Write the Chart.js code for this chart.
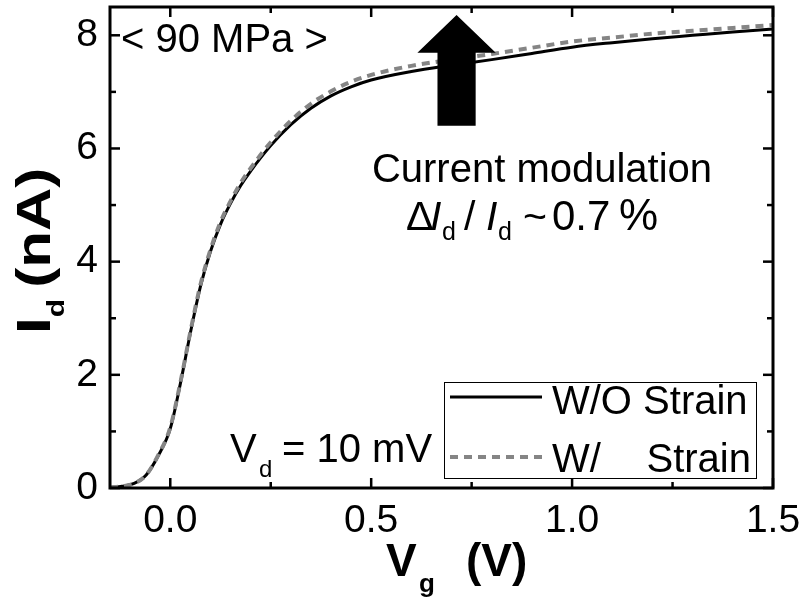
<!DOCTYPE html>
<html><head><meta charset="utf-8">
<script src="https://cdn.jsdelivr.net/npm/chart.js@4.4.1/dist/chart.umd.min.js"></script>
<style>html,body{margin:0;padding:0;background:#fff;}canvas{display:block;}</style>
</head><body>
<canvas id="c" width="804" height="600"></canvas>
<script>
// ---- data ----
const vg = [-0.15,-0.12,-0.09,-0.06,-0.03,0.00,0.025,0.05,0.075,0.10,0.125,0.15,0.175,0.20,0.25,0.30,0.35,0.40,0.45,0.50,0.60,0.70,0.80,0.90,1.00,1.10,1.20,1.30,1.40,1.50];
const idWithoutStrain = [0.01,0.03,0.08,0.23,0.57,1.05,1.84,2.74,3.56,4.18,4.66,5.03,5.34,5.60,6.05,6.42,6.71,6.93,7.09,7.21,7.36,7.47,7.57,7.68,7.79,7.87,7.94,8.00,8.06,8.11];
const idWithStrain    = [0.01,0.03,0.08,0.23,0.58,1.07,1.86,2.76,3.59,4.21,4.70,5.07,5.39,5.65,6.11,6.49,6.79,7.01,7.18,7.30,7.46,7.57,7.67,7.78,7.89,7.96,8.03,8.08,8.13,8.18];
const seriesLabels = ['W/O Strain', 'W/   Strain'];
const xTicks = [0.0, 0.5, 1.0, 1.5];
const xMinorTicks = [0.25, 0.75, 1.25];
const yTicks = [0, 2, 4, 6, 8];
const yMinorTicks = [1, 3, 5, 7];
const xRange = [-0.15, 1.5];
const yRange = [0, 8.5];
// annotation arrow (data units)
const arrowX = 0.7125, arrowTip = 8.36, arrowBase = 7.69, arrowTail = 6.40, arrowHeadHalf = 0.0975, arrowShaftHalf = 0.0475;

const FF = '"Liberation Sans", Arial, Helvetica, sans-serif';
const f = (size, style) => (style ? style + ' ' : '') + size + 'px ' + FF;

const deco = {
  id: 'deco',
  afterDatasetsDraw(chart) {
    const {ctx, chartArea: a, scales: {x, y}} = chart;
    const px = v => x.getPixelForValue(v), py = v => y.getPixelForValue(v);
    ctx.save();
    // arrow
    ctx.fillStyle = '#000';
    ctx.beginPath();
    ctx.moveTo(px(arrowX), py(arrowTip));
    ctx.lineTo(px(arrowX + arrowHeadHalf), py(arrowBase));
    ctx.lineTo(px(arrowX + arrowShaftHalf), py(arrowBase));
    ctx.lineTo(px(arrowX + arrowShaftHalf), py(arrowTail));
    ctx.lineTo(px(arrowX - arrowShaftHalf), py(arrowTail));
    ctx.lineTo(px(arrowX - arrowShaftHalf), py(arrowBase));
    ctx.lineTo(px(arrowX - arrowHeadHalf), py(arrowBase));
    ctx.closePath();
    ctx.fill();

    // frame
    ctx.strokeStyle = '#000';
    ctx.lineWidth = 3;
    ctx.strokeRect(a.left, a.top, a.right - a.left, a.bottom - a.top);
    // ticks (inside, mirrored)
    ctx.lineWidth = 2.5;
    const tick = (x1, y1, x2, y2) => { ctx.beginPath(); ctx.moveTo(x1, y1); ctx.lineTo(x2, y2); ctx.stroke(); };
    xTicks.forEach(v => { const p = px(v); tick(p, a.bottom, p, a.bottom - 10); tick(p, a.top, p, a.top + 10); });
    xMinorTicks.forEach(v => { const p = px(v); tick(p, a.bottom, p, a.bottom - 6); tick(p, a.top, p, a.top + 6); });
    yTicks.forEach(v => { const p = py(v); tick(a.left, p, a.left + 10, p); tick(a.right, p, a.right - 10, p); });
    yMinorTicks.forEach(v => { const p = py(v); tick(a.left, p, a.left + 6, p); tick(a.right, p, a.right - 6, p); });

    // annotations
    ctx.fillStyle = '#000';
    ctx.textBaseline = 'alphabetic';
    ctx.textAlign = 'left';
    ctx.font = f(40);
    ctx.fillText('< 90 MPa >', 121, 52);
    ctx.textAlign = 'center';
    ctx.fillText('Current modulation', 542, 182);
    ctx.textAlign = 'left';
    const put = (t, fnt, xx, yy) => { ctx.font = fnt; ctx.fillText(t, xx, yy); };
    put('\u0394', f(41), 406, 230);
    put('I', f(41, 'italic'), 430, 230);
    put('d', f(25), 442, 240);
    put('/', f(41), 464, 230);
    put('I', f(41, 'italic'), 486, 230);
    put('d', f(25), 498, 240);
    put('~', f(41), 523, 230);
    put('0.7', f(42), 552, 230);
    put('%', f(44), 619, 230);

    put('V', f(40), 230, 462);
    put('d', f(24), 259, 477);
    put('= 10 mV', f(40), 282, 462);

    // legend
    const ds = chart.data.datasets;
    ctx.fillStyle = '#fff';
    ctx.fillRect(444, 382, 313, 97);
    ctx.strokeStyle = '#000';
    ctx.lineWidth = 1;
    ctx.strokeRect(444.5, 382.5, 312, 96);
    const rows = [397, 457];
    [0, 1].forEach(i => {
      ctx.strokeStyle = ds[i].borderColor;
      ctx.lineWidth = ds[i].borderWidth;
      ctx.setLineDash(ds[i].borderDash || []);
      ctx.beginPath(); ctx.moveTo(450, rows[i]); ctx.lineTo(542, rows[i]); ctx.stroke();
      ctx.setLineDash([]);
    });
    ctx.fillStyle = '#000';
    ctx.font = f(40);
    ctx.fillText(seriesLabels[0], 552, 414);
    const parts = seriesLabels[1].split(/\s+/);
    ctx.fillText(parts[0], 552, 472);
    ctx.textAlign = 'right';
    ctx.fillText(parts[1], 751, 472);

    // axis titles
    ctx.textAlign = 'left';
    put('V', f(46, 'bold'), 386, 576);
    put('g', f(26, 'bold'), 419, 592);
    put('(V)', f(46, 'bold'), 466, 576);

    ctx.save();
    ctx.translate(50, 334);
    ctx.rotate(-Math.PI / 2);
    ctx.scale(1.25, 1);
    put('I', f(48, 'bold'), 0, 0);
    put('d', f(24, 'bold'), 13.5, 14);
    put('(nA)', f(48, 'bold'), 37, 0);
    ctx.restore();

    ctx.restore();
  }
};

const fixPad = s => { s.paddingTop = 0; s.paddingBottom = 0; s.paddingLeft = 0; s.paddingRight = 0; };

new Chart(document.getElementById('c'), {
  type: 'line',
  data: {
    datasets: [
      { label: seriesLabels[0], data: vg.map((v, i) => ({x: v, y: idWithoutStrain[i]})),
        borderColor: '#000000', borderWidth: 3, pointRadius: 0, cubicInterpolationMode: 'monotone', order: 1 },
      { label: seriesLabels[1], data: vg.map((v, i) => ({x: v, y: idWithStrain[i]})),
        borderColor: '#858585', borderWidth: 4, borderDash: [8, 6], pointRadius: 0, cubicInterpolationMode: 'monotone', order: 0 }
    ]
  },
  options: {
    responsive: false, animation: false, devicePixelRatio: 1,
    layout: { padding: { left: 0, right: 31, top: 7, bottom: 0 } },
    plugins: { legend: { display: false }, tooltip: { enabled: false } },
    scales: {
      x: {
        type: 'linear', min: xRange[0], max: xRange[1],
        afterBuildTicks: s => { s.ticks = xTicks.map(v => ({value: v})); },
        afterFit: s => { s.height = 112; fixPad(s); },
        grid: { display: false, drawTicks: false }, border: { display: false },
        ticks: { padding: 10, color: '#000', font: { family: FF, size: 39 }, maxRotation: 0, autoSkip: false,
                 callback: v => Number(v).toFixed(1) }
      },
      y: {
        type: 'linear', min: yRange[0], max: yRange[1],
        afterBuildTicks: s => { s.ticks = yTicks.map(v => ({value: v})); },
        afterFit: s => { s.width = 110; fixPad(s); },
        grid: { display: false, drawTicks: false }, border: { display: false },
        ticks: { padding: 12, color: '#000', font: { family: FF, size: 39 }, autoSkip: false,
                 callback: v => String(v) }
      }
    }
  },
  plugins: [deco]
});
</script>
</body></html>
